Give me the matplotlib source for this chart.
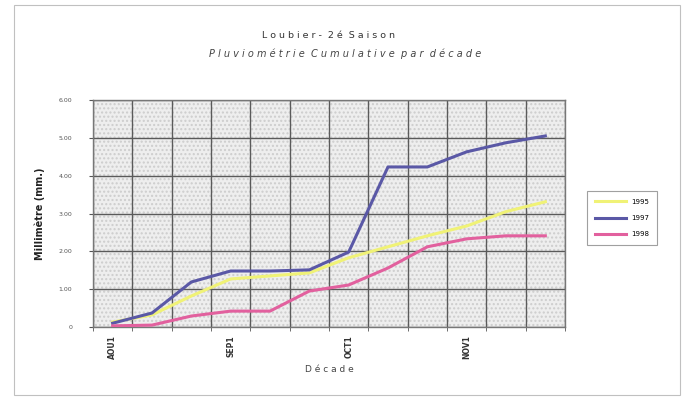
import numpy as np
import matplotlib
matplotlib.use("Agg")
import matplotlib.pyplot as plt
from matplotlib.patches import Rectangle

# Cumulative rainfall per decade (mm)
decades = ["AOU1", "AOU2", "AOU3", "SEP1", "SEP2", "SEP3",
           "OCT1", "OCT2", "OCT3", "NOV1", "NOV2", "NOV3"]
rain_1995 = [13, 32, 82, 127, 135, 143, 183, 212, 241, 267, 305, 331]
rain_1997 = [10, 37, 119, 148, 148, 151, 198, 423, 423, 463, 487, 505]
rain_1998 = [3, 5, 29, 42, 42, 95, 111, 156, 212, 233, 241, 241]
yticks = [0, 100, 200, 300, 400, 500, 600]
ytick_labels = ["0", "1.00", "2.00", "3.00", "4.00", "5.00", "6.00"]

fig = plt.figure(figsize=(6.86, 4.03), dpi=100)
W, H = 686., 403.
ax = fig.add_axes([93 / W, 1 - 327 / H, (565 - 93) / W, (327 - 100) / H])

ax.set_facecolor("#eeeeee")
ax.add_patch(Rectangle((0, 0), 1, 1, transform=ax.transAxes, facecolor="none",
                       edgecolor="#cdcdcd", hatch="....", linewidth=0, zorder=0))

x = np.arange(len(decades))
ax.plot(x, rain_1995, color="#f0f276", lw=2.2, label="1995", zorder=3)
ax.plot(x, rain_1997, color="#5a58a6", lw=2.2, label="1997", zorder=3)
ax.plot(x, rain_1998, color="#e2609e", lw=2.2, label="1998", zorder=3)

ax.set_xlim(-0.5, len(decades) - 0.5)
ax.set_ylim(0, 600)
ax.set_xticks(np.arange(-0.5, len(decades), 1), minor=True)
ax.set_xticks(x[::3])
ax.set_xticklabels(decades[::3], rotation=90, fontsize=5.5, fontweight="bold",
                   color="#333333")
ax.tick_params(axis="x", which="major", length=0, pad=6)
ax.tick_params(axis="x", which="minor", length=3, color="#555555")
ax.set_yticks(yticks)
ax.set_yticklabels(ytick_labels, fontsize=4.5, color="#555555")
ax.tick_params(axis="y", length=3, color="#555555", pad=12)
ax.grid(True, which="minor", axis="x", color="#5a5a5a", lw=1.0)
ax.grid(True, which="major", axis="y", color="#5a5a5a", lw=1.0)
for s in ax.spines.values():
    s.set_color("#777777")
    s.set_linewidth(1.0)

ax.set_ylabel("Millimètre (mm.)", fontsize=7, fontweight="bold", labelpad=10,
              color="#222222")
fig.text(329 / W, 1 - 370 / H, "D é c a d e", ha="center", va="center",
         fontsize=6.5, color="#444444")

fig.text(329 / W, 1 - 36 / H, "L o u b i e r -  2 é  S a i s o n",
         ha="center", va="center", fontsize=6.8, color="#333333")
fig.text(345 / W, 1 - 54 / H,
         "P l u v i o m é t r i e  C u m u l a t i v e  p a r  d é c a d e",
         ha="center", va="center", fontsize=7, style="italic",
         color="#444444")

leg = fig.legend(loc="center", bbox_to_anchor=(622 / W, 1 - 218 / H),
                 fontsize=5, frameon=True, fancybox=False, handlelength=4.5,
                 labelspacing=1.5, borderpad=1.1)
leg.get_frame().set_edgecolor("#888888")
leg.get_frame().set_linewidth(0.8)

# scanned page frame
fig.patches.append(Rectangle((14 / W, 8 / H), 666 / W, 390 / H,
                             transform=fig.transFigure, facecolor="none",
                             edgecolor="#c0c0c0", lw=0.8))

fig.savefig("out.png", dpi=100)
